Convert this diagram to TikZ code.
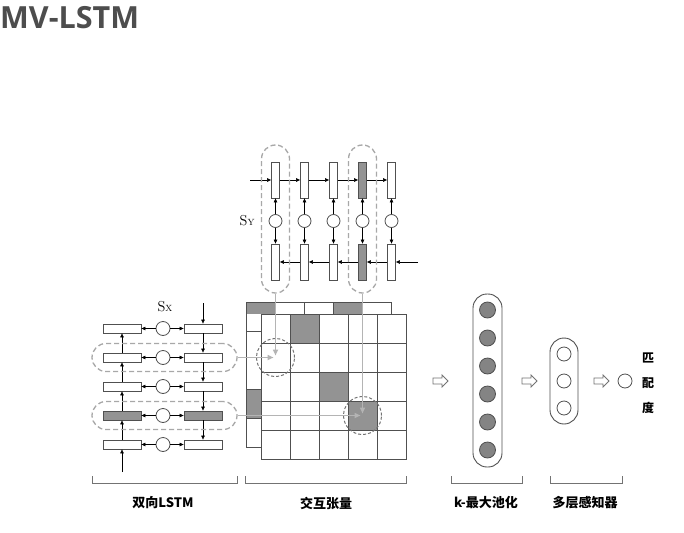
\documentclass[tikz,border=0pt]{standalone}
\usepackage{fontspec}
\usepackage{tikz}
\usetikzlibrary{arrows.meta,shapes.arrows,positioning}
\newfontfamily\titlefont{Open Sans}
\newfontfamily\cjk{Noto Sans CJK SC}
\definecolor{titleGray}{HTML}{4D4D4D}
\definecolor{boxLine}{HTML}{505050}
\definecolor{cellGray}{HTML}{939393}
\definecolor{dashGray}{HTML}{A8A8A8}
\definecolor{linkGray}{HTML}{B4B4B4}

\tikzset{
  hbox/.style={draw=boxLine,line width=0.8pt,minimum width=38pt,minimum height=9pt,inner sep=0pt},
  vbox/.style={draw=boxLine,line width=0.8pt,minimum width=8pt,minimum height=36pt,inner sep=0pt},
  unit/.style={circle,draw=boxLine,line width=0.8pt,fill=white,minimum size=14pt,inner sep=0pt},
  arr/.style={-{Triangle[length=4pt,width=3.5pt]},black,line width=0.5pt},
  sel/.style={draw=dashGray,dashed,dash pattern=on 5pt off 3pt,line width=1.3pt,rounded corners=14pt,inner sep=0pt},
  tcell/.style={draw=boxLine,line width=0.9pt,minimum size=29pt,inner sep=0pt},
  probe/.style={circle,draw=boxLine!80,dashed,dash pattern=on 3pt off 2pt,line width=1pt,minimum size=38pt,inner sep=0pt},
  garr/.style={-{Triangle[length=6pt,width=5pt]},linkGray,line width=1.6pt},
  harrow/.style={single arrow,draw=boxLine!80,fill=white,line width=0.8pt,minimum height=15pt,inner sep=2.6pt,single arrow head extend=3pt},
  capsule/.style={draw=boxLine,line width=0.9pt,rounded corners=14pt,minimum width=29pt,inner sep=0pt},
  brk/.style={draw=boxLine!80,line width=0.8pt},
  lbl/.style={font=\cjk\bfseries\fontsize{13}{15}\selectfont,text=black}
}

\begin{document}
\begin{tikzpicture}[x=1pt,y=-1pt]
  \useasboundingbox[fill=white] (0,0) rectangle (684,532);
  % Title
  \node[anchor=north west,inner sep=0pt,text=titleGray,font=\titlefont\bfseries\fontsize{30.5}{33}\selectfont] (title) at (0,6) {MV-LSTM};

  % Bidirectional LSTM over sentence X
  \foreach \i/\f in {1/white,2/white,3/white,4/cellGray,5/white} {
    \node[hbox,fill=\f] (fw\i) at (122,328.5+29*\i-29) {};
    \node[hbox,fill=\f] (bw\i) at (203,328.5+29*\i-29) {};
    \node[unit] (sx\i) at (163,328.5+29*\i-29) {};
    \draw[arr] (sx\i) -- (fw\i);
    \draw[arr] (sx\i) -- (bw\i);
  }
  \foreach \i [count=\j from 2] in {1,...,4} {
    \draw[arr] (fw\j) -- (fw\i);
    \draw[arr] (bw\i) -- (bw\j);
  }
  \coordinate (fwin) at (122,472);
  \coordinate (bwin) at (203,303);
  \draw[arr] (fwin) -- (fw5);
  \draw[arr] (bwin) -- (bw1);
  \node[font=\Large] (sxlab) at (165,307) {S{\small X}};
  \node[sel,minimum width=145pt,minimum height=28pt] (selx2) at (164.5,357.5) {};
  \node[sel,minimum width=145pt,minimum height=28pt] (selx4) at (164.5,415.5) {};

  % Bidirectional LSTM over sentence Y
  \foreach \i/\f in {1/white,2/white,3/white,4/cellGray,5/white} {
    \node[vbox,fill=\f] (tf\i) at (275.5+29*\i-29,180) {};
    \node[vbox,fill=\f] (tb\i) at (275.5+29*\i-29,262) {};
    \node[unit,minimum size=13pt] (sy\i) at (275.5+29*\i-29,221) {};
    \draw[arr] (sy\i) -- (tf\i);
    \draw[arr] (sy\i) -- (tb\i);
  }
  \foreach \i [count=\j from 2] in {1,...,4} {
    \draw[arr] (tf\i) -- (tf\j);
    \draw[arr] (tb\j) -- (tb\i);
  }
  \coordinate (tfin) at (250,180);
  \coordinate (tbin) at (418,262);
  \draw[arr] (tfin) -- (tf1);
  \draw[arr] (tbin) -- (tb5);
  \node[font=\Large,anchor=east] (sylab) at (258,221) {S{\small Y}};
  \node[sel,minimum width=28pt,minimum height=148pt] (sely1) at (275.5,219) {};
  \node[sel,minimum width=28pt,minimum height=148pt] (sely4) at (362.5,219) {};

  % Interaction tensor: back layer
  \fill[cellGray] (246,302) rectangle (275,314);
  \fill[cellGray] (333,302) rectangle (362,314);
  \fill[cellGray] (246,389) rectangle (261,418);
  \draw[brk,draw=boxLine] (246,302) rectangle (391,447);
  \foreach \x in {275,304,333,362} \draw[brk,draw=boxLine] (\x,302) -- (\x,314);
  \foreach \y in {331,389,418} \draw[brk,draw=boxLine] (246,\y) -- (261,\y);
  % Interaction tensor: front layer
  \foreach \r in {0,...,4} {
    \foreach \c in {0,...,4} {
      \node[tcell,fill=white] (c\r\c) at (275.5+29*\c,328.5+29*\r) {};
    }
  }
  \foreach \r/\c in {0/1,2/2,3/3} \node[tcell,fill=cellGray] at (c\r\c) {};
  \node[probe] (p1) at (c10) {};
  \node[probe] (p2) at (c33) {};
  \draw[garr,shorten >=2pt] (selx2.east) -- (c10.center);
  \draw[garr,shorten >=2pt] (sely1.south) -- (c10.center);
  \draw[garr,shorten >=2pt] (selx4.east) -- (c33.center);
  \draw[garr,shorten >=2pt] (sely4.south) -- (c33.center);

  % k-max pooling
  \node[harrow] (a1) at (439,381) {};
  \node[capsule,minimum height=173pt] (pool) at (487.5,380.5) {};
  \foreach \k in {0,...,5} \node[unit,fill=cellGray!90!black,minimum size=16pt] (k\k) at (487.5,310+28*\k) {};

  % multi-layer perceptron
  \node[harrow] (a2) at (528,381) {};
  \node[capsule,minimum width=28pt,minimum height=86pt] (mlp) at (564,381) {};
  \foreach \k in {0,1,2} \node[unit] (m\k) at (564,354+27*\k) {};
  \node[harrow] (a3) at (600,381) {};
  \node[unit] (out) at (625,381) {};
  \node[lbl,align=center,font=\cjk\bfseries\fontsize{12}{25}\selectfont] (score) at (648,383) {匹\\配\\度};

  % Brackets and captions
  \draw[brk] (92,476) -- (92,483) -- (237,483) -- (237,476);
  \draw[brk] (245,476) -- (245,483) -- (406,483) -- (406,476);
  \draw[brk] (451,476) -- (451,483) -- (522,483) -- (522,476);
  \draw[brk] (550,476) -- (550,483) -- (622,483) -- (622,476);
  \node[lbl] (cap1) at (163,503) {双向LSTM};
  \node[lbl] (cap2) at (326,503) {交互张量};
  \node[lbl] (cap3) at (486,503) {k-最大池化};
  \node[lbl] (cap4) at (585,503) {多层感知器};
\end{tikzpicture}
\end{document}
